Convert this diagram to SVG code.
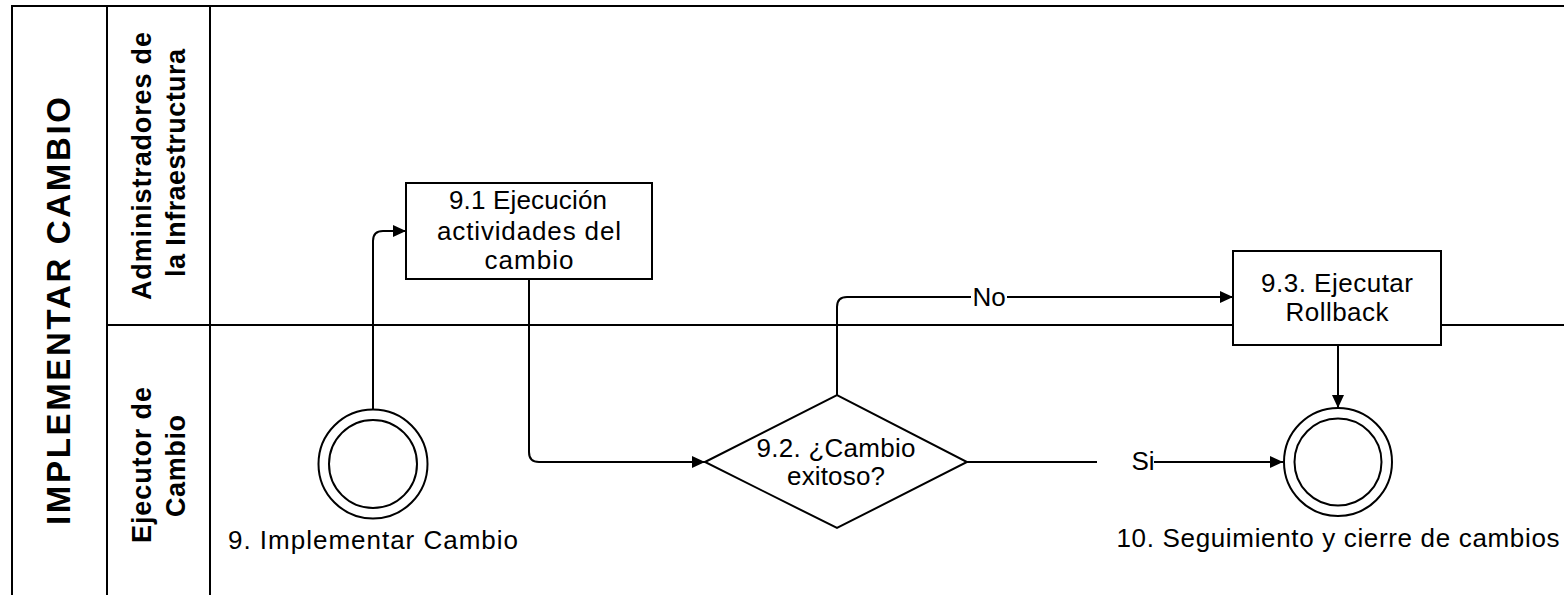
<svg xmlns="http://www.w3.org/2000/svg" width="1564" height="595" viewBox="0 0 1564 595">
<style>
.ln{fill:none;stroke:#000;stroke-width:2}
.sh{fill:#fff;stroke:#000;stroke-width:2}
.t{font-family:"Liberation Sans",Arial,sans-serif;font-size:26px;fill:#000;text-anchor:middle}
.tb{font-family:"Liberation Sans",Arial,sans-serif;font-weight:bold;fill:#000;text-anchor:middle}
</style>
<defs>
<marker id="arr" markerUnits="userSpaceOnUse" markerWidth="14" markerHeight="12" refX="13" refY="6" orient="auto">
<path d="M0,0 L13,6 L0,12 Z" fill="#000"/>
</marker>
</defs>
<rect width="1564" height="595" fill="#fff"/>
<g id="pool">
<path class="ln" d="M12,600 L12,6 L1566,6"/>
<path class="ln" d="M107,6 L107,600 M210,6 L210,600 M107,325 L1566,325"/>
<text class="tb" font-size="33" textLength="428" transform="translate(70,311) rotate(-90)">IMPLEMENTAR CAMBIO</text>
</g>
<g id="lane-admin">
<text class="tb" font-size="27" textLength="268" transform="translate(151,166) rotate(-90)">Administradores de</text>
<text class="tb" font-size="27" textLength="228" transform="translate(185,163) rotate(-90)">la Infraestructura</text>
</g>
<g id="lane-ejecutor">
<text class="tb" font-size="27" textLength="156" transform="translate(151,465) rotate(-90)">Ejecutor de</text>
<text class="tb" font-size="27" textLength="102" transform="translate(185,466) rotate(-90)">Cambio</text>
</g>
<g id="connectors">
<path class="ln" d="M373,409 L373,241 Q373,231 383,231 L406,231" marker-end="url(#arr)"/>
<path class="ln" d="M529,279 L529,452 Q529,462 539,462 L705,462" marker-end="url(#arr)"/>
<path class="ln" d="M837,395 L837,307 Q837,297 847,297 L971,297 M1007,297 L1233,297" marker-end="url(#arr)"/>
<text class="t" x="989" y="306" font-size="24">No</text>
<path class="ln" d="M967,462 L1097,462"/>
<path class="ln" d="M1154,462 L1283,462" marker-end="url(#arr)"/>
<text class="t" x="1143" y="470" font-size="24">Si</text>
<path class="ln" d="M1338,345 L1338,408" marker-end="url(#arr)"/>
</g>
<g id="start">
<circle class="sh" cx="373" cy="464" r="54.5"/>
<circle class="sh" cx="373" cy="464" r="44"/>
<text class="t" x="373" y="549" textLength="290">9. Implementar Cambio</text>
</g>
<g id="task-9-1">
<rect class="sh" x="406" y="183" width="246" height="96"/>
<text class="t" x="528" y="209" textLength="158">9.1 Ejecución</text>
<text class="t" x="529" y="240" textLength="184">actividades del</text>
<text class="t" x="529" y="269" textLength="89">cambio</text>
</g>
<g id="gateway-9-2">
<path class="sh" d="M705,462 L837,395 L967,462 L837,528 Z"/>
<text class="t" x="836" y="457" textLength="159">9.2. ¿Cambio</text>
<text class="t" x="836" y="485" textLength="98">exitoso?</text>
</g>
<g id="task-9-3">
<rect class="sh" x="1233" y="251" width="208" height="94"/>
<text class="t" x="1337" y="292" textLength="152">9.3. Ejecutar</text>
<text class="t" x="1337" y="321" textLength="103">Rollback</text>
</g>
<g id="end">
<circle class="sh" cx="1338" cy="462" r="54"/>
<circle class="sh" cx="1338" cy="462" r="43.5"/>
<text class="t" x="1338" y="547" textLength="443">10. Seguimiento y cierre de cambios</text>
</g>
</svg>
